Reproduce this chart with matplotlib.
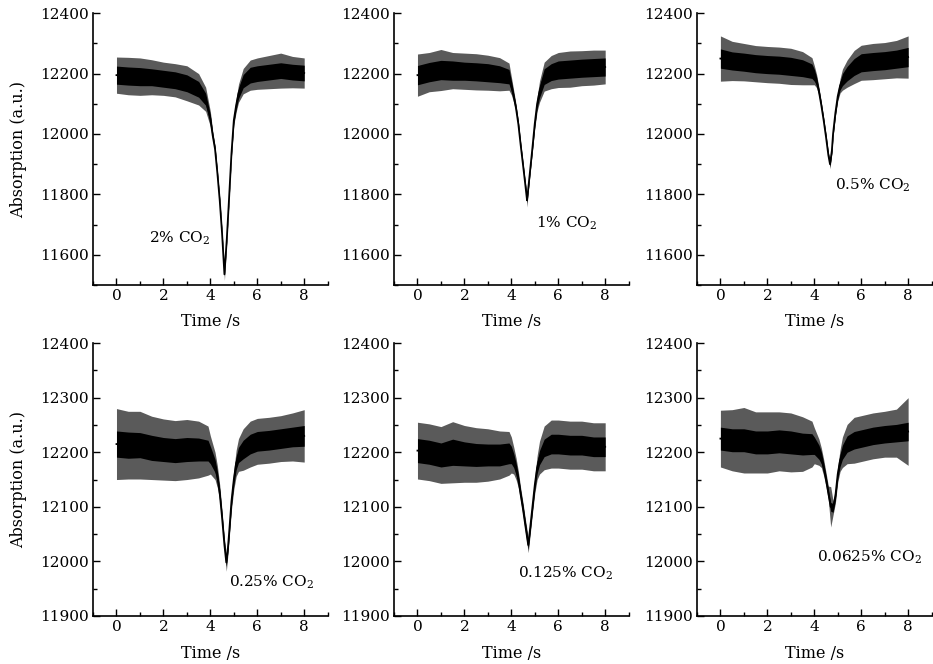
import matplotlib
matplotlib.use("Agg")
import matplotlib.pyplot as plt
from matplotlib.ticker import MultipleLocator

plt.rcParams['font.family'] = ['DejaVu Serif']
plt.rcParams['mathtext.fontset'] = 'dejavuserif'

# ---- data: time knots, trace centre, core band half-width, spike half-width ----
t1 = [0, 0.5, 1, 1.5, 2, 2.5, 3, 3.5, 3.8, 4.0, 4.1, 4.2, 4.3, 4.4, 4.5, 4.6, 4.7, 4.8, 4.9, 5.0, 5.1, 5.2, 5.4, 5.7, 6, 6.5, 7, 7.5, 8]
c1 = [12195, 12192, 12190, 12188, 12183, 12178, 12168, 12148, 12115, 12050, 11995, 11950, 11870, 11780, 11670, 11535, 11650, 11790, 11935, 12045, 12095, 12135, 12175, 12195, 12200, 12205, 12210, 12205, 12202]
w1 = [30, 30, 30, 28, 28, 28, 28, 26, 20, 14, 10, 8, 7, 6, 6, 6, 6, 6, 7, 10, 14, 18, 22, 26, 26, 26, 26, 26, 26]
s1 = [60, 62, 62, 58, 55, 55, 58, 52, 40, 25, 15, 12, 10, 8, 8, 20, 8, 8, 10, 15, 22, 30, 42, 50, 52, 55, 58, 52, 50]

t2 = [0, 0.5, 1, 1.5, 2, 2.5, 3, 3.5, 3.9, 4.0, 4.1, 4.2, 4.3, 4.4, 4.5, 4.6, 4.67, 4.7, 4.8, 4.9, 5.0, 5.1, 5.2, 5.4, 5.7, 6, 6.5, 7, 7.5, 8]
c2 = [12195, 12205, 12212, 12210, 12208, 12206, 12203, 12198, 12190, 12160, 12125, 12085, 12032, 11962, 11896, 11829, 11780, 11803, 11879, 11955, 12035, 12100, 12140, 12190, 12205, 12212, 12215, 12218, 12220, 12222]
w2 = [32, 32, 32, 32, 30, 30, 30, 28, 24, 18, 12, 9, 8, 7, 7, 7, 7, 7, 7, 8, 10, 14, 20, 26, 28, 30, 30, 30, 30, 30]
s2 = [70, 65, 68, 60, 60, 60, 58, 55, 45, 30, 20, 14, 12, 10, 10, 10, 22, 10, 10, 12, 16, 24, 35, 48, 55, 58, 60, 58, 58, 56]

t3 = [0, 0.5, 1, 1.5, 2, 2.5, 3, 3.5, 3.9, 4.0, 4.1, 4.2, 4.3, 4.4, 4.5, 4.6, 4.67, 4.75, 4.8, 4.9, 5.0, 5.1, 5.2, 5.4, 5.7, 6, 6.5, 7, 7.5, 8]
c3 = [12250, 12242, 12238, 12233, 12230, 12228, 12224, 12218, 12208, 12195, 12175, 12140, 12095, 12045, 11990, 11930, 11900, 11945, 12000, 12070, 12125, 12160, 12180, 12200, 12222, 12236, 12240, 12243, 12248, 12255]
w3 = [32, 30, 30, 30, 30, 30, 30, 28, 24, 20, 14, 10, 8, 7, 7, 7, 7, 7, 7, 8, 10, 14, 20, 24, 28, 30, 30, 30, 30, 32]
s3 = [75, 65, 62, 60, 60, 60, 60, 55, 45, 32, 22, 14, 12, 10, 10, 10, 15, 10, 10, 12, 16, 24, 35, 45, 55, 58, 60, 60, 62, 70]

t4 = [0, 0.5, 1, 1.5, 2, 2.5, 3, 3.5, 3.9, 4.0, 4.2, 4.3, 4.4, 4.5, 4.6, 4.68, 4.75, 4.8, 4.9, 5.0, 5.1, 5.2, 5.4, 5.7, 6, 6.5, 7, 7.5, 8]
c4 = [12215, 12213, 12213, 12208, 12205, 12203, 12205, 12205, 12203, 12195, 12175, 12155, 12125, 12080, 12030, 11998, 12025, 12052, 12110, 12150, 12180, 12195, 12205, 12215, 12220, 12222, 12225, 12228, 12230]
w4 = [24, 24, 23, 23, 22, 22, 22, 21, 19, 16, 12, 10, 8, 7, 7, 7, 7, 7, 8, 10, 12, 14, 17, 18, 18, 18, 18, 18, 19]
s4 = [65, 62, 62, 58, 56, 55, 55, 52, 45, 35, 25, 20, 15, 12, 12, 16, 12, 12, 15, 18, 24, 30, 38, 42, 42, 42, 42, 44, 48]

t5 = [0, 0.5, 1, 1.5, 2, 2.5, 3, 3.5, 3.9, 4.0, 4.1, 4.2, 4.3, 4.4, 4.5, 4.6, 4.72, 4.8, 4.9, 5.0, 5.1, 5.2, 5.4, 5.7, 6, 6.5, 7, 7.5, 8]
c5 = [12203, 12200, 12195, 12200, 12197, 12195, 12195, 12195, 12198, 12195, 12185, 12170, 12150, 12122, 12095, 12065, 12030, 12060, 12100, 12140, 12172, 12190, 12208, 12215, 12215, 12213, 12213, 12210, 12210]
w5 = [22, 22, 22, 24, 22, 21, 20, 20, 19, 16, 13, 11, 9, 8, 8, 8, 8, 8, 8, 9, 11, 13, 16, 18, 18, 18, 18, 18, 18]
s5 = [52, 52, 52, 56, 52, 50, 48, 44, 40, 33, 25, 20, 15, 12, 12, 12, 14, 12, 12, 15, 22, 30, 40, 44, 44, 44, 44, 44, 44]

t6 = [0, 0.5, 1, 1.5, 2, 2.5, 3, 3.5, 3.9, 4.0, 4.2, 4.3, 4.4, 4.5, 4.6, 4.7, 4.8, 4.9, 5.0, 5.1, 5.2, 5.4, 5.7, 6, 6.5, 7, 7.5, 8]
c6 = [12225, 12222, 12222, 12218, 12218, 12220, 12218, 12215, 12215, 12212, 12200, 12190, 12172, 12150, 12125, 12100, 12098, 12120, 12160, 12185, 12200, 12215, 12222, 12225, 12230, 12233, 12235, 12238]
w6 = [21, 21, 21, 21, 21, 21, 21, 20, 19, 16, 13, 11, 9, 8, 8, 8, 8, 8, 9, 11, 13, 15, 16, 16, 16, 16, 16, 17]
s6 = [52, 56, 60, 56, 56, 54, 54, 50, 42, 33, 24, 18, 15, 13, 13, 37, 13, 13, 15, 20, 28, 36, 42, 42, 42, 42, 44, 62]

labels = ["2% CO$_2$", "1% CO$_2$", "0.5% CO$_2$", "0.25% CO$_2$", "0.125% CO$_2$", "0.0625% CO$_2$"]
label_x = [2.7, 6.35, 6.5, 6.6, 6.3, 6.35]
label_y = [11655, 11705, 11830, 11962, 11979, 12008]

xticks = [0, 2, 4, 6, 8]
yticks_top = [11600, 11800, 12000, 12200, 12400]
yticks_bottom = [11900, 12000, 12100, 12200, 12300, 12400]

panels = [(t1, c1, w1, s1), (t2, c2, w2, s2), (t3, c3, w3, s3),
          (t4, c4, w4, s4), (t5, c5, w5, s5), (t6, c6, w6, s6)]

fig = plt.figure(figsize=(9.33, 6.64), dpi=100)
lefts = [0.0997, 0.4223, 0.7470]
bottoms = [0.571, 0.0723]
width = 0.2515
heights = [0.409, 0.411]

for i, (t, c, w, s) in enumerate(panels):
    row, col = divmod(i, 3)
    ax = fig.add_axes([lefts[col], bottoms[row], width, heights[row]])
    lo_s = [ci - si for ci, si in zip(c, s)]
    hi_s = [ci + si for ci, si in zip(c, s)]
    lo_w = [ci - wi for ci, wi in zip(c, w)]
    hi_w = [ci + wi for ci, wi in zip(c, w)]
    ax.fill_between(t, lo_s, hi_s, color='#5a5a5a', lw=0)
    ax.fill_between(t, lo_w, hi_w, color='black', lw=0)
    ax.plot(t, c, color='black', lw=1.3)

    ax.set_xlim(-1, 9)
    if row == 0:
        ax.set_ylim(11500, 12400)
        ax.set_yticks(yticks_top)
        ax.yaxis.set_minor_locator(MultipleLocator(100))
    else:
        ax.set_ylim(11900, 12400)
        ax.set_yticks(yticks_bottom)
        ax.yaxis.set_minor_locator(MultipleLocator(50))
    ax.set_xticks(xticks)
    ax.xaxis.set_minor_locator(MultipleLocator(1))

    for sp in ['top', 'right']:
        ax.spines[sp].set_visible(False)
    for sp in ['left', 'bottom']:
        ax.spines[sp].set_linewidth(1.2)
    ax.tick_params(which='both', direction='in', width=1.0, labelsize=11, color='black')
    ax.tick_params(which='major', length=5, pad=3)
    ax.tick_params(which='minor', length=3)

    ax.set_xlabel("Time /s", fontsize=11.5)
    ax.xaxis.set_label_coords(0.5, -0.105)
    if col == 0:
        ax.set_ylabel("Absorption (a.u.)", fontsize=11.5)
        ax.yaxis.set_label_coords(-0.28, 0.5)

    ax.text(label_x[i], label_y[i], labels[i], fontsize=11, ha='center', va='center')

fig.savefig("out.png", dpi=100)
